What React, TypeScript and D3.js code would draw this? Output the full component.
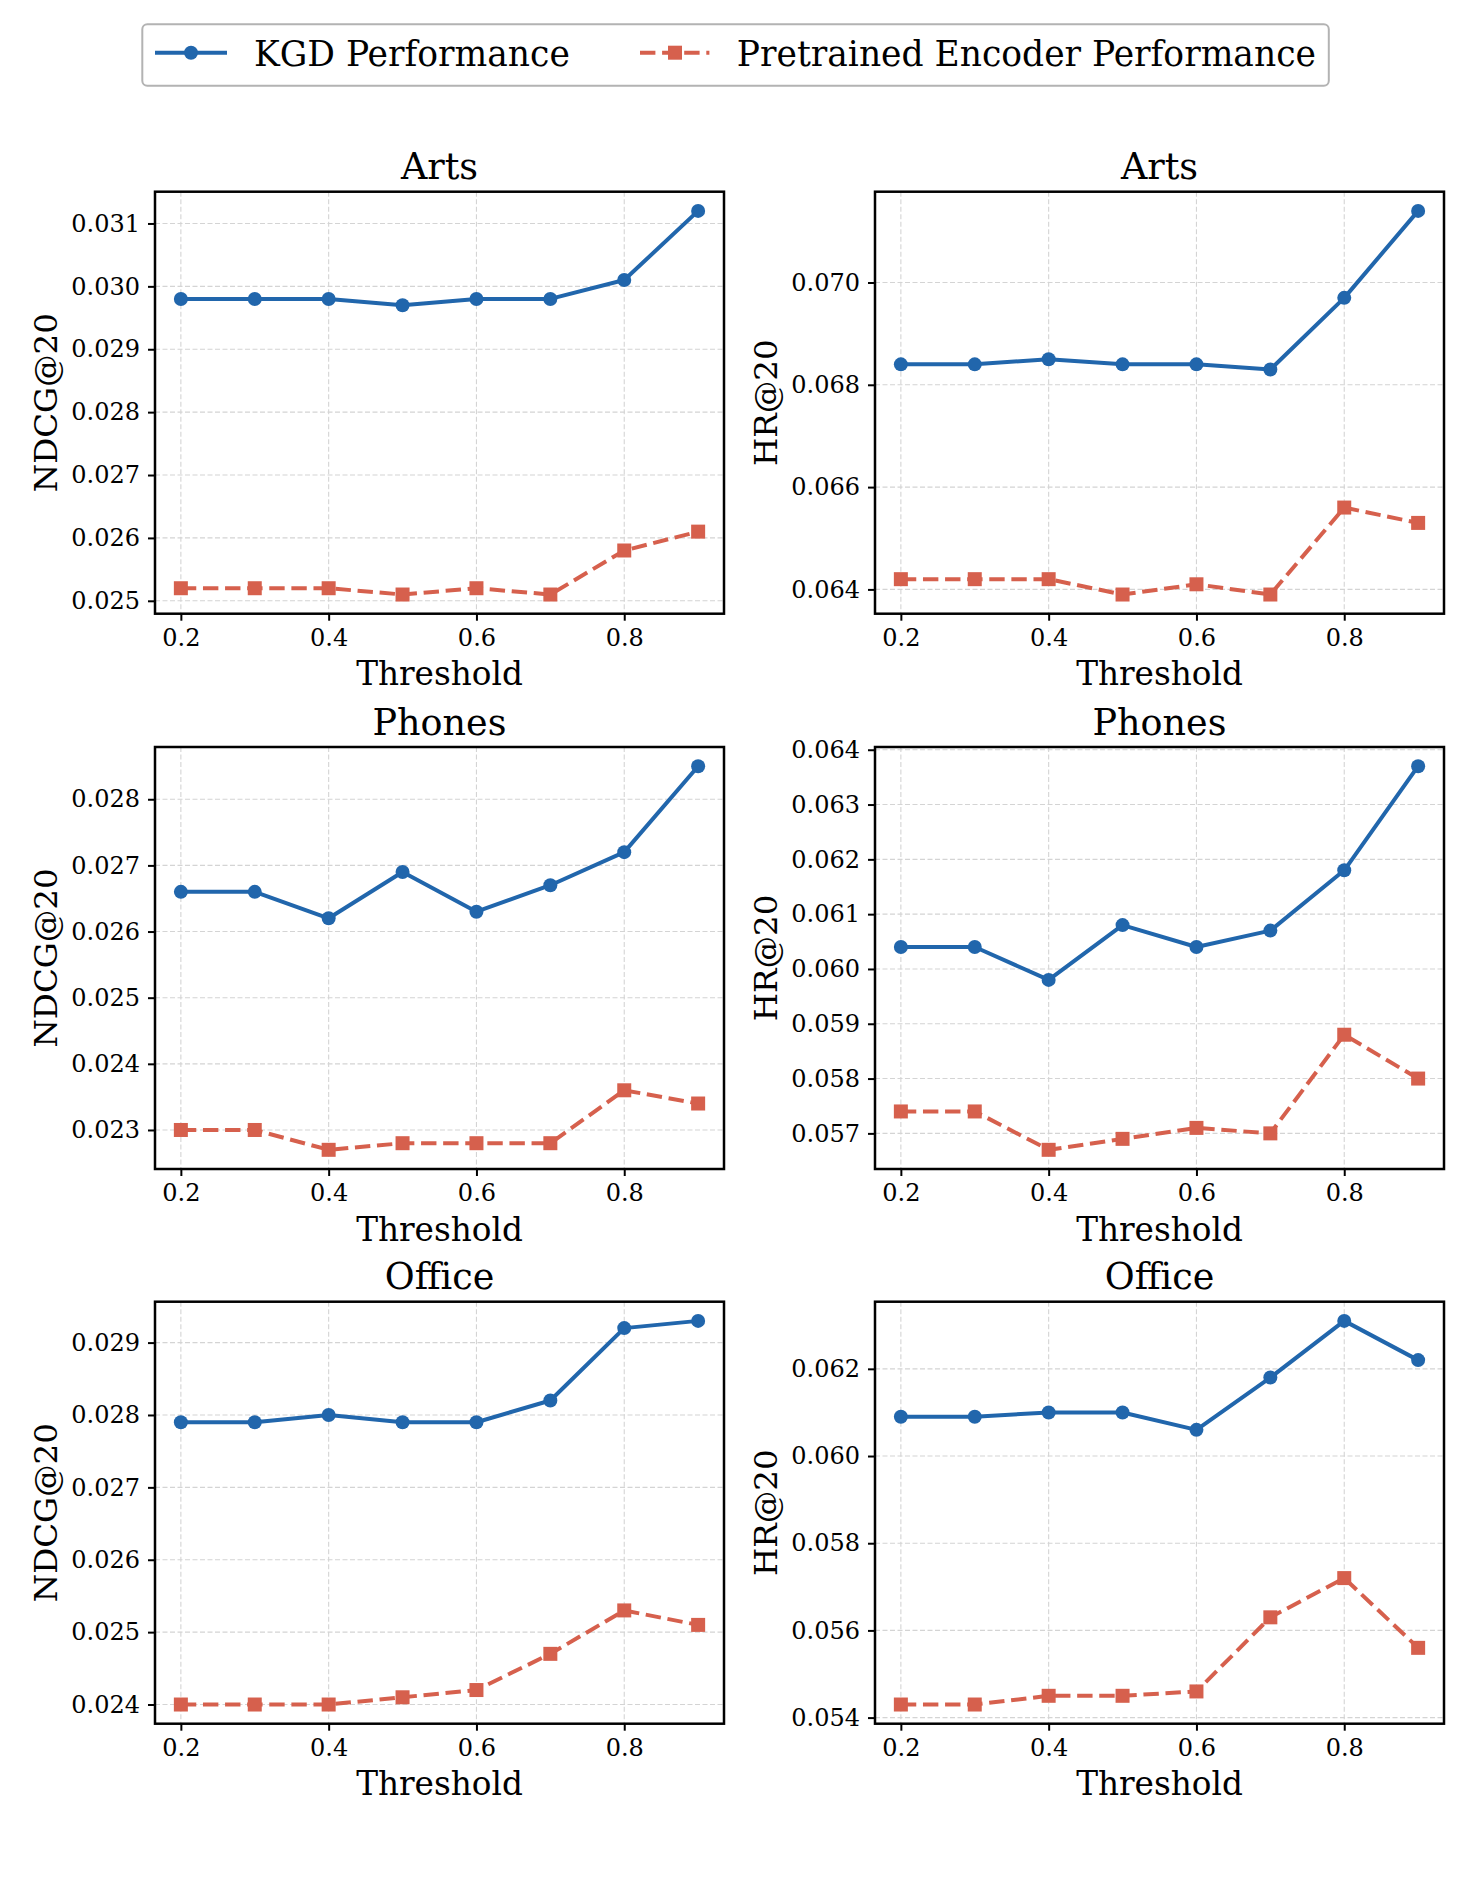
import React, { useEffect, useRef } from 'react';
import * as d3 from 'd3';

// x values shared by every panel
const thresholds = [0.2, 0.3, 0.4, 0.5, 0.6, 0.7, 0.8, 0.9];
const xTicks = [0.2, 0.4, 0.6, 0.8];

// Arts
const artsNdcgKgd = [0.0298, 0.0298, 0.0298, 0.0297, 0.0298, 0.0298, 0.0301, 0.0312];
const artsNdcgPre = [0.0252, 0.0252, 0.0252, 0.0251, 0.0252, 0.0251, 0.0258, 0.0261];
const artsHrKgd = [0.0684, 0.0684, 0.0685, 0.0684, 0.0684, 0.0683, 0.0697, 0.0714];
const artsHrPre = [0.0642, 0.0642, 0.0642, 0.0639, 0.0641, 0.0639, 0.0656, 0.0653];

// Phones
const phonesNdcgKgd = [0.0266, 0.0266, 0.0262, 0.0269, 0.0263, 0.0267, 0.0272, 0.0285];
const phonesNdcgPre = [0.023, 0.023, 0.0227, 0.0228, 0.0228, 0.0228, 0.0236, 0.0234];
const phonesHrKgd = [0.0604, 0.0604, 0.0598, 0.0608, 0.0604, 0.0607, 0.0618, 0.0637];
const phonesHrPre = [0.0574, 0.0574, 0.0567, 0.0569, 0.0571, 0.057, 0.0588, 0.058];

// Office
const officeNdcgKgd = [0.0279, 0.0279, 0.028, 0.0279, 0.0279, 0.0282, 0.0292, 0.0293];
const officeNdcgPre = [0.024, 0.024, 0.024, 0.0241, 0.0242, 0.0247, 0.0253, 0.0251];
const officeHrKgd = [0.0609, 0.0609, 0.061, 0.061, 0.0606, 0.0618, 0.0631, 0.0622];
const officeHrPre = [0.0543, 0.0543, 0.0545, 0.0545, 0.0546, 0.0563, 0.0572, 0.0556];

// y tick labels per panel
const artsNdcgTicks = [0.025, 0.026, 0.027, 0.028, 0.029, 0.03, 0.031];
const artsHrTicks = [0.064, 0.066, 0.068, 0.07];
const phonesNdcgTicks = [0.023, 0.024, 0.025, 0.026, 0.027, 0.028];
const phonesHrTicks = [0.057, 0.058, 0.059, 0.06, 0.061, 0.062, 0.063, 0.064];
const officeNdcgTicks = [0.024, 0.025, 0.026, 0.027, 0.028, 0.029];
const officeHrTicks = [0.054, 0.056, 0.058, 0.06, 0.062];

const seriesNames = ['KGD Performance', 'Pretrained Encoder Performance'];

const panels = [
  { title: 'Arts', metric: 'NDCG@20', kgd: artsNdcgKgd, pre: artsNdcgPre, ticks: artsNdcgTicks },
  { title: 'Arts', metric: 'HR@20', kgd: artsHrKgd, pre: artsHrPre, ticks: artsHrTicks },
  { title: 'Phones', metric: 'NDCG@20', kgd: phonesNdcgKgd, pre: phonesNdcgPre, ticks: phonesNdcgTicks },
  { title: 'Phones', metric: 'HR@20', kgd: phonesHrKgd, pre: phonesHrPre, ticks: phonesHrTicks },
  { title: 'Office', metric: 'NDCG@20', kgd: officeNdcgKgd, pre: officeNdcgPre, ticks: officeNdcgTicks },
  { title: 'Office', metric: 'HR@20', kgd: officeHrKgd, pre: officeHrPre, ticks: officeHrTicks },
];

const BLUE = '#2166ac';
const RED = '#d6604d';
const FONT = '"DejaVu Serif", serif';

const App: React.FC = () => {
  const ref = useRef<SVGSVGElement | null>(null);

  useEffect(() => {
    if (!ref.current) return;
    const svg = d3.select(ref.current);
    svg.selectAll('*').remove();

    const W = 1476;
    const H = 1884;
    svg.attr('width', W).attr('height', H);
    svg.append('rect').attr('width', W).attr('height', H).attr('fill', '#fff');

    const colX = [155, 875];
    const rowY = [191.7, 747, 1301.7];
    const pw = 569;
    const ph = 422;

    const dash = '15.4,6.7';

    panels.forEach((p, i) => {
      const left = colX[i % 2];
      const top = rowY[Math.floor(i / 2)];
      const g = svg.append('g').attr('transform', `translate(${left},${top})`);

      // matplotlib-like 5% margins
      const xMin = d3.min(thresholds)!;
      const xMax = d3.max(thresholds)!;
      const xm = (xMax - xMin) * 0.05;
      const x = d3.scaleLinear().domain([xMin - xm, xMax + xm]).range([0, pw]);

      const all = [...p.kgd, ...p.pre];
      const yMin = d3.min(all)!;
      const yMax = d3.max(all)!;
      const ym = (yMax - yMin) * 0.05;
      const y = d3.scaleLinear().domain([yMin - ym, yMax + ym]).range([ph, 0]);

      // grid
      g.selectAll('.vgrid')
        .data(xTicks)
        .enter()
        .append('line')
        .attr('x1', d => x(d)).attr('x2', d => x(d))
        .attr('y1', 0).attr('y2', ph)
        .attr('stroke', '#d4d4d4').attr('stroke-width', 1.1)
        .attr('stroke-dasharray', '5,2.5');
      g.selectAll('.hgrid')
        .data(p.ticks)
        .enter()
        .append('line')
        .attr('x1', 0).attr('x2', pw)
        .attr('y1', d => y(d)).attr('y2', d => y(d))
        .attr('stroke', '#d4d4d4').attr('stroke-width', 1.1)
        .attr('stroke-dasharray', '5,2.5');

      const line = d3.line<number>()
        .x((_, j) => x(thresholds[j]))
        .y(d => y(d));

      // pretrained (dashed, squares)
      g.append('path')
        .datum(p.pre)
        .attr('d', line)
        .attr('fill', 'none')
        .attr('stroke', RED)
        .attr('stroke-width', 4)
        .attr('stroke-dasharray', dash);
      g.selectAll('.sq')
        .data(p.pre)
        .enter()
        .append('rect')
        .attr('x', (_, j) => x(thresholds[j]) - 7)
        .attr('y', d => y(d) - 7)
        .attr('width', 14).attr('height', 14)
        .attr('fill', RED);

      // KGD (solid, circles)
      g.append('path')
        .datum(p.kgd)
        .attr('d', line)
        .attr('fill', 'none')
        .attr('stroke', BLUE)
        .attr('stroke-width', 4)
        .attr('stroke-linejoin', 'round');
      g.selectAll('.dot')
        .data(p.kgd)
        .enter()
        .append('circle')
        .attr('cx', (_, j) => x(thresholds[j]))
        .attr('cy', d => y(d))
        .attr('r', 7)
        .attr('fill', BLUE);

      // frame
      g.append('rect')
        .attr('width', pw).attr('height', ph)
        .attr('fill', 'none').attr('stroke', '#000').attr('stroke-width', 2.5);

      // x axis
      const xa = g.append('g').attr('transform', `translate(0,${ph})`)
        .call(d3.axisBottom(x).tickValues(xTicks).tickFormat(d3.format('.1f')).tickSize(7).tickPadding(8));
      xa.select('.domain').remove();
      xa.selectAll('line').attr('stroke', '#000').attr('stroke-width', 2);
      xa.selectAll('text')
        .attr('font-family', FONT).attr('font-size', 24).attr('fill', '#000');

      // y axis
      const ya = g.append('g')
        .call(d3.axisLeft(y).tickValues(p.ticks).tickFormat(d3.format('.3f')).tickSize(7).tickPadding(8));
      ya.select('.domain').remove();
      ya.selectAll('line').attr('stroke', '#000').attr('stroke-width', 2);
      ya.selectAll('text')
        .attr('font-family', FONT).attr('font-size', 24).attr('fill', '#000');

      // title
      g.append('text')
        .attr('x', pw / 2).attr('y', -12.4)
        .attr('text-anchor', 'middle')
        .attr('font-family', FONT).attr('font-size', 36.5)
        .text(p.title);

      // x label
      g.append('text')
        .attr('x', pw / 2).attr('y', ph + 71.5)
        .attr('text-anchor', 'middle')
        .attr('font-family', FONT).attr('font-size', 32.7)
        .text('Threshold');

      // y label
      g.append('text')
        .attr('transform', `translate(-98.3,${ph / 2}) rotate(-90)`)
        .attr('text-anchor', 'middle')
        .attr('font-family', FONT).attr('font-size', 32.5)
        .text(p.metric);
    });

    // legend
    const lg = svg.append('g');
    lg.append('rect')
      .attr('x', 142.3).attr('y', 24.3)
      .attr('width', 1328.8 - 142.3).attr('height', 85.7 - 24.3)
      .attr('rx', 5)
      .attr('fill', '#fff').attr('stroke', '#b3b3b3').attr('stroke-width', 2);

    const ly = 52.7;
    lg.append('line')
      .attr('x1', 155).attr('x2', 227).attr('y1', ly).attr('y2', ly)
      .attr('stroke', BLUE).attr('stroke-width', 4);
    lg.append('circle').attr('cx', 191).attr('cy', ly).attr('r', 7).attr('fill', BLUE);
    lg.append('text')
      .attr('x', 254).attr('y', 65.7)
      .attr('font-family', FONT).attr('font-size', 34.5)
      .text(seriesNames[0]);

    lg.append('line')
      .attr('x1', 640).attr('x2', 709.4).attr('y1', ly).attr('y2', ly)
      .attr('stroke', RED).attr('stroke-width', 4)
      .attr('stroke-dasharray', dash);
    lg.append('rect').attr('x', 675 - 7).attr('y', ly - 7).attr('width', 14).attr('height', 14).attr('fill', RED);
    lg.append('text')
      .attr('x', 736.8).attr('y', 65.7)
      .attr('font-family', FONT).attr('font-size', 34.5)
      .text(seriesNames[1]);
  }, []);

  return (
    <div style={{ position: 'absolute', left: 0, top: 0 }}>
      <svg ref={ref} style={{ display: 'block' }} />
    </div>
  );
};

export default App;
